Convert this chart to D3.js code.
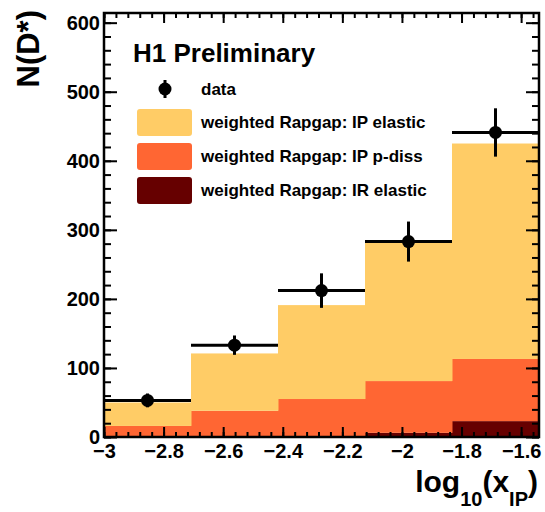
<!DOCTYPE html>
<html>
<head>
<meta charset="utf-8">
<script src="https://cdn.jsdelivr.net/npm/d3@7"></script>
<style>
  html, body { margin: 0; padding: 0; background: #fff; }
  svg { display: block; font-family: "Liberation Sans", Arial, Helvetica, sans-serif; font-weight: bold; }
</style>
</head>
<body>
<svg id="chart" width="545" height="512"></svg>
<script>
// Bin edges in log10(x_IP)
const binEdges = [-3, -2.708, -2.416, -2.124, -1.832, -1.54];

// Measured D* counts with statistical errors
const dataCounts = [53, 133, 212, 283, 441];
const dataErrors = [10, 14, 25, 29, 35];

// Weighted Rapgap contributions (stacked)
const irElastic = [0, 0, 1, 6, 23];
const ipPdiss   = [16, 38, 54, 75, 90];
const ipElastic = [34, 83, 136, 203, 312];

// Axis ticks
const xMajorTicks = [-3, -2.8, -2.6, -2.4, -2.2, -2, -1.8, -1.6];
const xTickLabels = ["\u22123", "\u22122.8", "\u22122.6", "\u22122.4", "\u22122.2", "\u22122", "\u22121.8", "\u22121.6"];
const yMajorTicks = [0, 100, 200, 300, 400, 500, 600];
const yTickLabels = ["0", "100", "200", "300", "400", "500", "600"];

const legendItems = [
  { key: "data", label: "data" },
  { key: "ipElastic", label: "weighted Rapgap: IP elastic" },
  { key: "ipPdiss", label: "weighted Rapgap: IP p-diss" },
  { key: "irElastic", label: "weighted Rapgap: IR elastic" }
];

const colors = { ipElastic: "#ffcc66", ipPdiss: "#ff6633", irElastic: "#660000" };

const svg = d3.select("#chart");
const frame = { left: 104, right: 539, top: 13, bottom: 437 };

const x = d3.scaleLinear().domain([-3, -1.54]).range([frame.left, frame.right]);
const y = d3.scaleLinear().domain([0, 614]).range([frame.bottom, frame.top]);

// Stacked histogram
const rows = dataCounts.map((_, i) => ({
  x0: binEdges[i], x1: binEdges[i + 1],
  irElastic: irElastic[i], ipPdiss: ipPdiss[i], ipElastic: ipElastic[i]
}));
const stack = d3.stack().keys(["irElastic", "ipPdiss", "ipElastic"]);
const layers = stack(rows);

svg.append("g").selectAll("g")
  .data(layers).join("g")
  .attr("fill", d => colors[d.key])
  .selectAll("rect")
  .data(d => d).join("rect")
  .attr("x", d => x(d.data.x0))
  .attr("width", d => x(d.data.x1) - x(d.data.x0) + 0.5)
  .attr("y", d => y(d[1]))
  .attr("height", d => Math.max(0, y(d[0]) - y(d[1])));

// Axes: ticks drawn inward on all four sides
const minorX = d3.range(-3, -1.539, 0.04);
const minorY = d3.range(0, 614, 20);

function styleAxis(g) {
  g.select(".domain").remove();
  g.selectAll("line").attr("stroke", "#000").attr("stroke-width", 2);
  g.selectAll("text").attr("fill", "#000").style("font-size", "20px").style("font-weight", "bold");
}

svg.append("g").attr("transform", `translate(0,${frame.bottom})`)
  .call(d3.axisBottom(x).tickValues(minorX).tickFormat("").tickSizeInner(-5).tickSizeOuter(0)).call(styleAxis);
svg.append("g").attr("transform", `translate(0,${frame.bottom})`)
  .call(d3.axisBottom(x).tickValues(xMajorTicks).tickFormat((d, i) => xTickLabels[i]).tickSizeInner(-10).tickSizeOuter(0).tickPadding(7))
  .call(styleAxis);
svg.append("g").attr("transform", `translate(0,${frame.top})`)
  .call(d3.axisTop(x).tickValues(minorX).tickFormat("").tickSizeInner(-5).tickSizeOuter(0)).call(styleAxis);
svg.append("g").attr("transform", `translate(0,${frame.top})`)
  .call(d3.axisTop(x).tickValues(xMajorTicks).tickFormat("").tickSizeInner(-10).tickSizeOuter(0)).call(styleAxis);

svg.append("g").attr("transform", `translate(${frame.left},0)`)
  .call(d3.axisLeft(y).tickValues(minorY).tickFormat("").tickSizeInner(-7).tickSizeOuter(0)).call(styleAxis);
svg.append("g").attr("transform", `translate(${frame.left},0)`)
  .call(d3.axisLeft(y).tickValues(yMajorTicks).tickFormat((d, i) => yTickLabels[i]).tickSizeInner(-13).tickSizeOuter(0).tickPadding(4))
  .call(styleAxis);
svg.append("g").attr("transform", `translate(${frame.right},0)`)
  .call(d3.axisRight(y).tickValues(minorY).tickFormat("").tickSizeInner(-7).tickSizeOuter(0)).call(styleAxis);
svg.append("g").attr("transform", `translate(${frame.right},0)`)
  .call(d3.axisRight(y).tickValues(yMajorTicks).tickFormat("").tickSizeInner(-13).tickSizeOuter(0)).call(styleAxis);

// Frame
svg.append("rect")
  .attr("x", frame.left).attr("y", frame.top)
  .attr("width", frame.right - frame.left).attr("height", frame.bottom - frame.top)
  .attr("fill", "none").attr("stroke", "#000").attr("stroke-width", 2.5);

// Data points with error bars
const pts = dataCounts.map((v, i) => ({ x0: binEdges[i], x1: binEdges[i + 1], v, e: dataErrors[i] }));
const gData = svg.append("g");
gData.selectAll("line.h").data(pts).join("line")
  .attr("x1", d => x(d.x0)).attr("x2", d => x(d.x1))
  .attr("y1", d => y(d.v)).attr("y2", d => y(d.v))
  .attr("stroke", "#000").attr("stroke-width", 3);
gData.selectAll("line.v").data(pts).join("line")
  .attr("x1", d => x((d.x0 + d.x1) / 2)).attr("x2", d => x((d.x0 + d.x1) / 2))
  .attr("y1", d => y(d.v - d.e)).attr("y2", d => y(d.v + d.e))
  .attr("stroke", "#000").attr("stroke-width", 3);
gData.selectAll("circle").data(pts).join("circle")
  .attr("cx", d => x((d.x0 + d.x1) / 2)).attr("cy", d => y(d.v))
  .attr("r", 6.5).attr("fill", "#000");

// Label and legend
svg.append("text").attr("x", 133).attr("y", 62)
  .style("font-size", "26px").text("H1 Preliminary");

const legendRowY = [89, 122, 156, 190];
const leg = svg.append("g");
legendItems.forEach((item, i) => {
  const cy = legendRowY[i];
  if (item.key === "data") {
    leg.append("line").attr("x1", 165).attr("x2", 165).attr("y1", cy - 9).attr("y2", cy + 9)
      .attr("stroke", "#000").attr("stroke-width", 3);
    leg.append("circle").attr("cx", 165).attr("cy", cy).attr("r", 6.5).attr("fill", "#000");
  } else {
    leg.append("rect").attr("x", 137).attr("y", cy - 13).attr("width", 55).attr("height", 27)
      .attr("rx", 3).attr("fill", colors[item.key]);
  }
  leg.append("text").attr("x", 201).attr("y", cy + 6)
    .style("font-size", "17px").text(item.label);
});

// Axis titles
svg.append("text")
  .attr("transform", "translate(39,10) rotate(-90)")
  .attr("text-anchor", "end")
  .style("font-size", "31px")
  .text("N(D*)");

const xt = svg.append("text").attr("x", 538).attr("y", 492).attr("text-anchor", "end").style("font-size", "30px");
xt.append("tspan").text("log");
xt.append("tspan").attr("dy", 14).style("font-size", "20px").text("10");
xt.append("tspan").attr("dy", -14).text("(x");
xt.append("tspan").attr("dy", 14).style("font-size", "20px").text("IP");
xt.append("tspan").attr("dy", -14).text(")");
</script>
</body>
</html>
